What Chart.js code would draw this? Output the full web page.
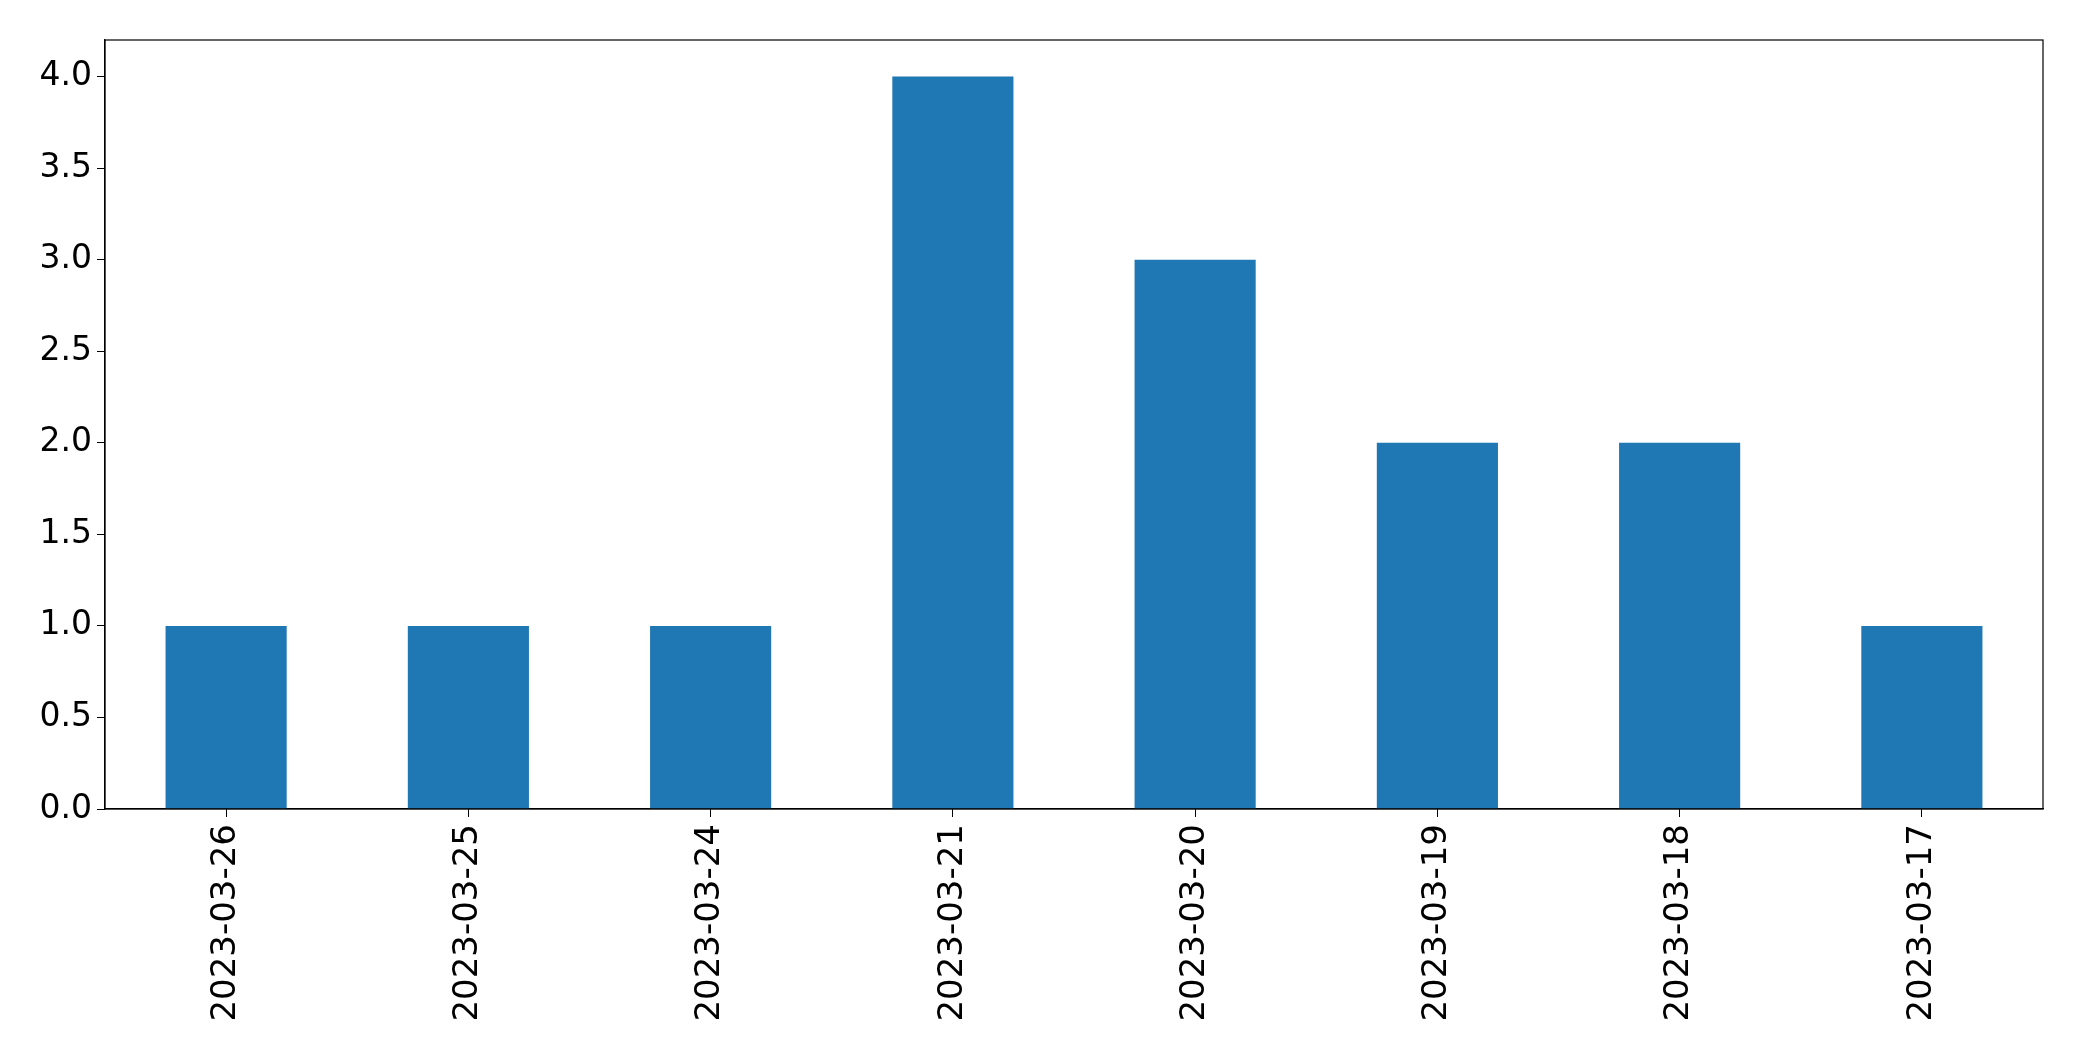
<!DOCTYPE html>
<html>
<head>
<meta charset="utf-8">
<script src="https://cdn.jsdelivr.net/npm/chart.js@4/dist/chart.umd.min.js"></script>
<style>
html,body{margin:0;padding:0;background:#fff;}
#wrap{width:2082px;height:1061px;}
</style>
</head>
<body>
<div id="wrap"><canvas id="c" width="2082" height="1061"></canvas></div>
<script>
const categories = ["2023-03-26","2023-03-25","2023-03-24","2023-03-21","2023-03-20","2023-03-19","2023-03-18","2023-03-17"];
const values = [1, 1, 1, 4, 3, 2, 2, 1];
const yTicks = [0, 0.5, 1, 1.5, 2, 2.5, 3, 3.5, 4];

const frame = {
  id: 'frame',
  afterDraw(chart) {
    const a = chart.chartArea, ctx = chart.ctx;
    ctx.save();
    ctx.strokeStyle = '#000';
    ctx.lineWidth = 1.2;
    ctx.strokeRect(a.left, a.top, a.right - a.left, a.bottom - a.top);
    ctx.restore();
  }
};

new Chart(document.getElementById('c'), {
  type: 'bar',
  data: {
    labels: categories,
    datasets: [{ data: values, backgroundColor: '#1f77b4', borderWidth: 0, barPercentage: 0.5, categoryPercentage: 1.0 }]
  },
  options: {
    responsive: false,
    animation: false,
    devicePixelRatio: 1,
    layout: { padding: { left: 0, top: 40, right: 39, bottom: 0 } },
    plugins: { legend: { display: false }, tooltip: { enabled: false } },
    scales: {
      x: {
        offset: true,
        grid: { display: true, drawOnChartArea: false, drawTicks: true, tickLength: 8, color: '#000', offset: false },
        border: { display: true, color: '#000', width: 1.2 },
        ticks: { color: '#000', font: { family: 'DejaVu Sans', size: 34 }, minRotation: 90, maxRotation: 90, padding: 7, autoSkip: false },
        afterFit(s) { s.height = 1061 - 809; }
      },
      y: {
        min: 0, max: 4.2,
        afterBuildTicks(s) { s.ticks = yTicks.map(v => ({ value: v })); },
        grid: { display: true, drawOnChartArea: false, drawTicks: true, tickLength: 8, color: '#000' },
        border: { display: true, color: '#000', width: 1.2 },
        ticks: { color: '#000', font: { family: 'DejaVu Sans', size: 33 }, padding: 5, callback: v => v.toFixed(1) },
        afterFit(s) { s.width = 105; }
      }
    }
  },
  plugins: [frame]
});
</script>
</body>
</html>
